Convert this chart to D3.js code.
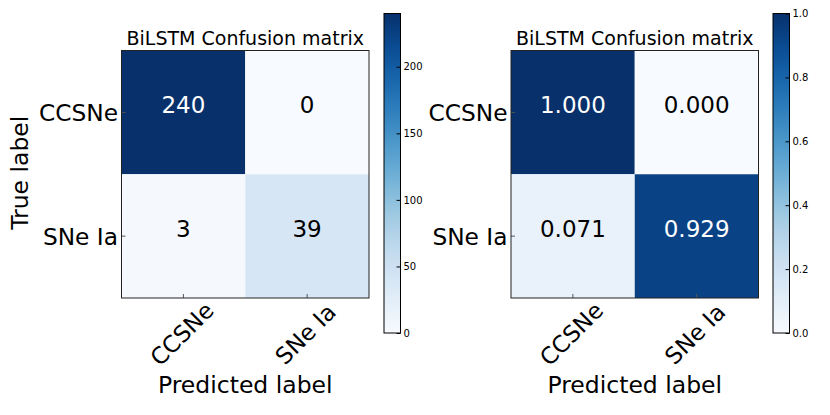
<!DOCTYPE html>
<html><head><meta charset="utf-8">
<script src="https://cdn.jsdelivr.net/npm/d3@7"></script>
<style>
html,body{margin:0;padding:0;background:#fff;}
svg{display:block;font-family:"DejaVu Sans",sans-serif;}
</style></head>
<body>
<svg id="chart" width="830" height="415"></svg>
<script>
const categories = ["CCSNe", "SNe Ia"];
const countValues = [[240, 0], [3, 39]];
const normValues = [[1.000, 0.000], [0.071, 0.929]];
const countTicks = [0, 50, 100, 150, 200];
const normTicks = [0, 0.2, 0.4, 0.6, 0.8, 1.0];
const titleText = "BiLSTM Confusion matrix";
const xLabelText = "Predicted label";
const yLabelText = "True label";

const svg = d3.select("#chart");
const defs = svg.append("defs");

const panels = [
  {id: "cnt", values: countValues, vmax: 240, ticks: countTicks, fmt: d3.format("d"), cellFmt: d3.format("d"),
   left: 121.5, top: 50.5, size: 247.5, cbLeft: 384, showYLabel: true},
  {id: "nrm", values: normValues, vmax: 1, ticks: normTicks, fmt: d3.format(".1f"), cellFmt: d3.format(".3f"),
   left: 511, top: 50.5, size: 247.5, cbLeft: 773, showYLabel: false}
];

const cbTop = 13.5, cbBottom = 333, cbWidth = 16.5;

panels.forEach(p => {
  const x = d3.scaleBand().domain(categories).range([p.left, p.left + p.size]);
  const y = d3.scaleBand().domain(categories).range([p.top, p.top + p.size]);
  const color = d3.scaleSequential(d3.interpolateBlues).domain([0, p.vmax]);
  const g = svg.append("g");

  const cells = [];
  p.values.forEach((row, i) => row.forEach((v, j) => cells.push({r: categories[i], c: categories[j], v})));
  g.selectAll("rect.cell").data(cells).enter().append("rect")
    .attr("x", d => x(d.c)).attr("y", d => y(d.r))
    .attr("width", x.bandwidth()).attr("height", y.bandwidth())
    .attr("fill", d => color(d.v));

  g.selectAll("text.cell").data(cells).enter().append("text")
    .attr("x", d => x(d.c) + x.bandwidth() / 2)
    .attr("y", d => y(d.r) + y.bandwidth() / 2 + 0.5)
    .attr("text-anchor", "middle")
    .attr("font-size", 23)
    .attr("fill", d => d.v > p.vmax / 2 ? "#fff" : "#000")
    .text(d => p.cellFmt(d.v));

  const ya = g.append("g").attr("transform", `translate(${p.left},0)`)
    .call(d3.axisLeft(y).tickSizeInner(-4).tickSizeOuter(0).tickPadding(3.5));
  ya.select(".domain").remove();
  ya.selectAll("line").attr("stroke", "#555");
  ya.selectAll("text").attr("font-size", 23.3).attr("font-family", "DejaVu Sans").attr("fill", "#000").attr("dy", "0.36em");

  const xa = g.append("g").attr("transform", `translate(0,${p.top + p.size})`)
    .call(d3.axisBottom(x).tickSizeInner(-4).tickSizeOuter(0).tickFormat(""));
  xa.select(".domain").remove();
  xa.selectAll("line").attr("stroke", "#555");

  g.selectAll("text.xtl").data(categories).enter().append("text")
    .attr("transform", d => `translate(${x(d) + x.bandwidth() / 2 - 1.5},334) rotate(-45)`)
    .attr("text-anchor", "middle")
    .attr("dominant-baseline", "central")
    .attr("font-size", 23)
    .text(d => d);

  g.append("rect").attr("x", p.left).attr("y", p.top).attr("width", p.size).attr("height", p.size)
    .attr("fill", "none").attr("stroke", "#222").attr("stroke-width", 1);

  g.append("text").attr("x", p.left + p.size / 2).attr("y", 45)
    .attr("text-anchor", "middle").attr("font-size", 19).text(titleText);

  g.append("text").attr("x", p.left + p.size / 2).attr("y", 393)
    .attr("text-anchor", "middle").attr("font-size", 23.5).text(xLabelText);

  if (p.showYLabel) {
    g.append("text").attr("transform", `translate(27.5,${p.top + p.size / 2 - 1.5}) rotate(-90)`)
      .attr("text-anchor", "middle").attr("font-size", 23.5).text(yLabelText);
  }

  const gid = "grad-" + p.id;
  const grad = defs.append("linearGradient").attr("id", gid)
    .attr("x1", 0).attr("y1", 1).attr("x2", 0).attr("y2", 0);
  d3.range(0, 1.0001, 0.02).forEach(t => {
    grad.append("stop").attr("offset", t).attr("stop-color", d3.interpolateBlues(t));
  });
  g.append("rect").attr("x", p.cbLeft).attr("y", cbTop).attr("width", cbWidth).attr("height", cbBottom - cbTop)
    .attr("fill", `url(#${gid})`).attr("stroke", "#000").attr("stroke-width", 1);
  const cbScale = d3.scaleLinear().domain([0, p.vmax]).range([cbBottom, cbTop]);
  const ca = g.append("g").attr("transform", `translate(${p.cbLeft + cbWidth},0)`)
    .call(d3.axisRight(cbScale).tickValues(p.ticks).tickFormat(p.fmt).tickSizeInner(-4).tickSizeOuter(0).tickPadding(3));
  ca.select(".domain").remove();
  ca.selectAll("line").attr("stroke", "#000");
  ca.selectAll("text").attr("font-size", 10).attr("font-family", "DejaVu Sans").attr("fill", "#000");
});
</script>
</body></html>
